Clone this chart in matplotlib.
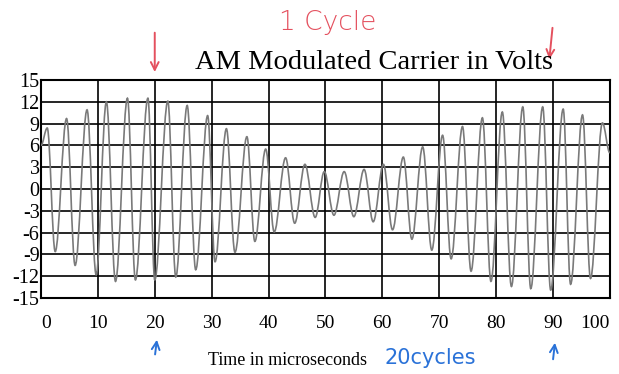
import matplotlib
matplotlib.use('Agg')
import matplotlib.pyplot as plt
from matplotlib.path import Path
from matplotlib.patches import PathPatch

# values read off the scanned worksheet
# peaks / troughs of the AM trace (time in microseconds, volts)
peak_t = [1.1, 4.5, 8.1, 11.5, 15.2, 18.8, 22.3, 25.7, 29.3, 32.6, 36.2, 39.5, 43.0, 46.4, 49.8,
          53.3, 56.8, 60.2, 63.7, 67.1, 70.6, 74.1, 77.6, 81.1, 84.7, 88.2, 91.8, 95.2, 98.7]
peak_v = [8.4, 9.7, 10.9, 12.0, 12.5, 12.5, 12.1, 11.5, 10.1, 8.3, 7.2, 5.5, 4.3, 3.4, 2.4,
          2.4, 2.7, 3.4, 4.4, 5.8, 7.4, 8.6, 9.8, 10.6, 11.3, 11.3, 11.0, 10.2, 9.1]
trough_t = [2.5, 6.0, 9.7, 13.1, 16.6, 20.0, 23.7, 27.2, 30.6, 34.1, 37.6, 41.0, 44.6, 48.2,
            51.5, 55.0, 58.4, 61.8, 65.2, 68.7, 72.1, 75.6, 79.1, 82.7, 86.1, 89.6, 93.1, 96.6]
trough_v = [-8.6, -10.5, -11.8, -12.7, -12.5, -12.5, -12.1, -11.1, -10.0, -8.7, -7.2, -5.9, -4.7, -3.9,
            -3.6, -3.8, -4.5, -5.6, -6.9, -8.4, -9.6, -11.3, -12.7, -13.4, -13.7, -13.9, -13.1, -12.3]
start_t, start_v = 0, 6.0
end_t, end_v = 100, 5.0

x_ticks = [0, 10, 20, 30, 40, 50, 60, 70, 80, 90, 100]
y_ticks = [15, 12, 9, 6, 3, 0, -3, -6, -9, -12, -15]
y_labels = ['15', '12', '9', '6', '3', '0', '-3', '-6', '-9', '-12', '-15']

plt.rcParams['font.family'] = ['Liberation Serif', 'DejaVu Serif']

fig = plt.figure(figsize=(6.19, 3.74), dpi=100)
ax = fig.add_axes([0.0662, 0.203, 0.919, 0.583])

# merge extrema into one trace, then join them with smooth curves
pts = sorted(list(zip(peak_t, peak_v)) + list(zip(trough_t, trough_v)))
pts = [(start_t, start_v)] + pts + [(end_t, end_v)]
verts = [pts[0]]
codes = [Path.MOVETO]
for (t0, v0), (t1, v1) in zip(pts[:-1], pts[1:]):
    d = (t1 - t0) * 0.36
    verts += [(t0 + d, v0), (t1 - d, v1), (t1, v1)]
    codes += [Path.CURVE4] * 3
trace = PathPatch(Path(verts, codes), facecolor='none', edgecolor='#7a7a7a', lw=1.2, zorder=3)
ax.add_patch(trace)

ax.set_xlim(0, 100)
ax.set_ylim(-15, 15)
ax.set_xticks(x_ticks)
ax.set_yticks(y_ticks)
ax.set_yticklabels(y_labels)
ax.grid(True, color='black', lw=1.2)
ax.tick_params(length=0, labelsize=14)
ax.tick_params(axis='x', pad=12)
ax.tick_params(axis='y', pad=1, labelsize=14.5)
xl = ax.get_xticklabels()
xl[0].set_ha('left')
xl[-1].set_ha('right')
for s in ax.spines.values():
    s.set_linewidth(1.5)

fig.text(0.605, 0.834, 'AM Modulated Carrier in Volts', ha='center', va='center', fontsize=20.5)
fig.text(0.465, 0.037, 'Time in microseconds', ha='center', va='center', fontsize=13)

# handwritten notes on the worksheet
red = '#e4505e'
blue = '#2a72d8'
fig.text(0.530, 0.941, '1 Cycle', ha='center', va='center', fontsize=19, color=red,
         family=['DejaVu Sans'], fontweight='light')
fig.text(0.695, 0.043, '20cycles', ha='center', va='center', fontsize=15, color=blue,
         family=['DejaVu Sans'])
arrows = [((0.250, 0.920), (0.250, 0.800), red),
          ((0.893, 0.933), (0.887, 0.834), red),
          ((0.250, 0.045), (0.254, 0.099), blue),
          ((0.893, 0.032), (0.897, 0.091), blue)]
for (x0, y0), (x1, y1), c in arrows:
    fig.add_artist(plt.Annotation('', xy=(x1, y1), xytext=(x0, y0), xycoords='figure fraction',
                                  textcoords='figure fraction',
                                  arrowprops=dict(arrowstyle='->', color=c, lw=1.4,
                                                  mutation_scale=14)))

fig.savefig('out.png', dpi=100)
